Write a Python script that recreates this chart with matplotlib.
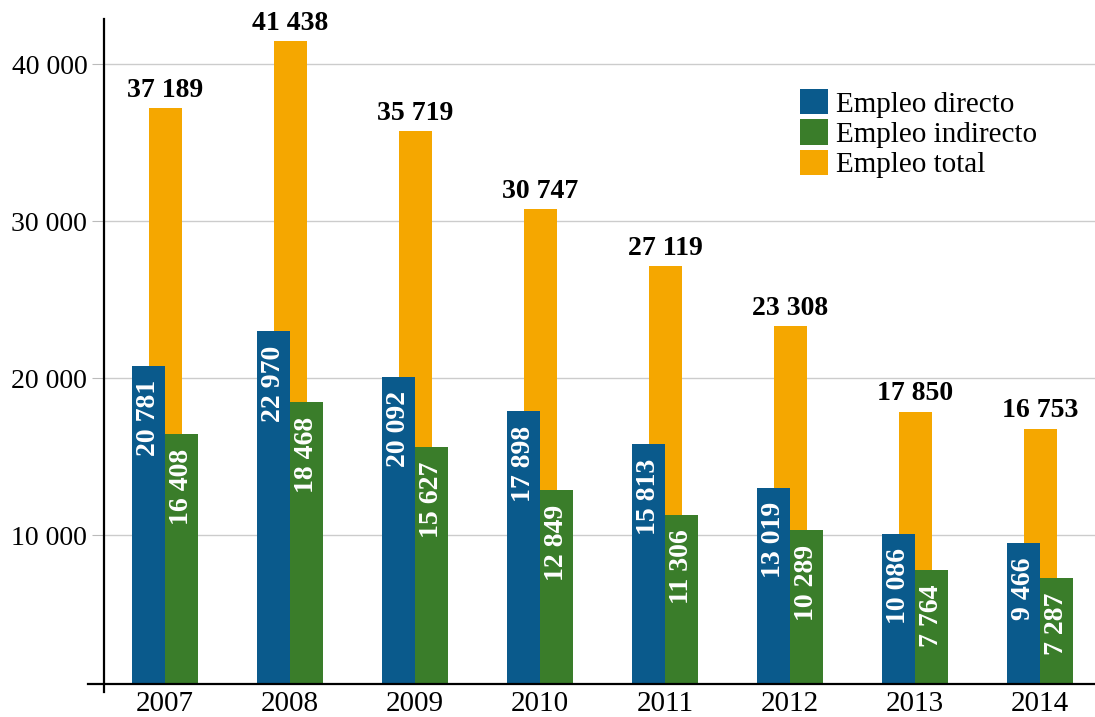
import matplotlib
matplotlib.use('Agg')
import matplotlib.pyplot as plt
from matplotlib.lines import Line2D
import numpy as np

years = ['2007', '2008', '2009', '2010', '2011', '2012', '2013', '2014']
direct = [20781, 22970, 20092, 17898, 15813, 13019, 10086, 9466]
indirect = [16408, 18468, 15627, 12849, 11306, 10289, 7764, 7287]
total = [37189, 41438, 35719, 30747, 27119, 23308, 17850, 16753]
y_ticks = [10000, 20000, 30000, 40000]

c_direct = '#0A5A8C'
c_indirect = '#3A7D2A'
c_total = '#F5A700'


def fmt(v):
    return f'{v:,}'.replace(',', ' ')


def main():
    plt.rcParams['font.family'] = ['Liberation Serif', 'DejaVu Serif']

    fig = plt.figure(figsize=(10.95, 7.17), dpi=100)
    ax = fig.add_axes([104 / 1095, 33 / 717, 991 / 1095, 665 / 717])

    x = np.arange(len(years))
    w = 0.264

    ax.bar(x, total, width=w, color=c_total, zorder=2, label='Empleo total')
    ax.bar(x - w / 2, direct, width=w, color=c_direct, zorder=3, label='Empleo directo')
    ax.bar(x + w / 2, indirect, width=w, color=c_indirect, zorder=3, label='Empleo indirecto')

    for i in range(len(years)):
        ax.annotate(fmt(total[i]), (x[i], total[i]), xytext=(0, 4), textcoords='offset points',
                    ha='center', va='bottom', fontsize=20, fontweight='bold', zorder=5)
        ax.annotate(fmt(direct[i]), (x[i] - w / 2, direct[i]), xytext=(0, -10.5),
                    textcoords='offset points', ha='center', va='top', rotation=90,
                    fontsize=20, fontweight='bold', color='white', zorder=5)
        ax.annotate(fmt(indirect[i]), (x[i] + w / 2, indirect[i]), xytext=(0, -10.5),
                    textcoords='offset points', ha='center', va='top', rotation=90,
                    fontsize=20, fontweight='bold', color='white', zorder=5)

    ax.set_xlim(-0.488, 7.44)
    ax.set_ylim(510, 42870)

    ax.set_yticks(y_ticks)
    ax.set_yticklabels([fmt(v) for v in y_ticks], fontsize=20)
    ax.set_xticks(x)
    ax.set_xticklabels(years, fontsize=21)
    ax.tick_params(axis='y', length=9, width=0.8, color='#bbbbbb', pad=3)
    ax.tick_params(axis='x', length=0, pad=5)

    for yv in y_ticks:
        ax.axhline(yv, color='#cccccc', linewidth=1, zorder=1)

    for s in ax.spines.values():
        s.set_visible(False)

    ax.add_line(Line2D([0, 0], [-0.012, 1], transform=ax.transAxes, color='black',
                       linewidth=1.6, clip_on=False, zorder=6))
    ax.add_line(Line2D([-0.016, 1], [0, 0], transform=ax.transAxes, color='black',
                       linewidth=1.6, clip_on=False, zorder=6))

    handles, labels = ax.get_legend_handles_labels()
    order = [1, 2, 0]
    ax.legend([handles[i] for i in order], [labels[i] for i in order],
              loc='upper left', bbox_to_anchor=(800 / 1095, 1 - 89 / 717),
              bbox_transform=fig.transFigure, frameon=False, fontsize=21,
              handlelength=0.95, handleheight=0.95, handletextpad=0.28,
              labelspacing=0.06, borderpad=0, borderaxespad=0)

    fig.savefig('out.png', dpi=100)


if __name__ == '__main__':
    main()
